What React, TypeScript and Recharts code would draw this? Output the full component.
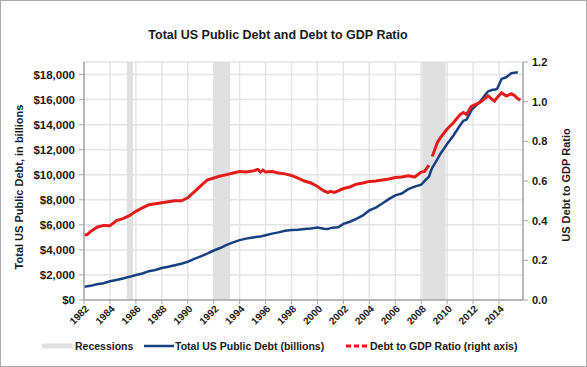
import React from 'react';
import { ComposedChart, Line, XAxis, YAxis, CartesianGrid, ReferenceArea } from 'recharts';

// quarter-ish sample points
const years = [
  1982.0, 1982.25, 1982.5, 1983.0, 1983.5, 1984.0, 1984.5, 1985.0, 1985.5, 1986.0,
  1986.5, 1987.0, 1987.5, 1988.0, 1988.5, 1989.0, 1989.5, 1990.0, 1990.5, 1991.0,
  1991.5, 1992.0, 1992.5, 1993.0, 1993.5, 1994.0, 1994.5, 1995.0, 1995.4, 1995.6,
  1995.8, 1996.0, 1996.5, 1997.0, 1997.5, 1998.0, 1998.5, 1999.0, 1999.5, 2000.0,
  2000.5, 2000.8, 2001.0, 2001.3, 2001.6, 2002.0, 2002.5, 2003.0, 2003.5, 2004.0,
  2004.5, 2005.0, 2005.5, 2006.0, 2006.5, 2007.0, 2007.5, 2008.0, 2008.25, 2008.6,
  2008.75, 2008.85, 2009.0, 2009.25, 2009.5, 2010.0, 2010.5, 2011.0, 2011.25, 2011.5,
  2011.85, 2012.0, 2012.5, 2013.0, 2013.15, 2013.5, 2013.65, 2013.85, 2014.2, 2014.55,
  2014.95, 2015.2, 2015.45, 2015.65,
];

const debtBillions = [
  1060, 1090, 1130, 1250, 1340, 1490, 1600, 1720, 1850, 2000,
  2120, 2300, 2400, 2550, 2660, 2780, 2900, 3050, 3280, 3480,
  3700, 3950, 4150, 4400, 4600, 4780, 4900, 4990, 5050, 5070,
  5120, 5170, 5300, 5400, 5520, 5580, 5600, 5660, 5700, 5780,
  5680, 5660, 5740, 5780, 5800, 6080, 6250, 6480, 6750, 7150,
  7380, 7700, 8050, 8350, 8500, 8850, 9050, 9200, 9500, 9850,
  10300, 10550, 10800, 11250, 11700, 12450, 13150, 13950, 14300, 14400,
  15100, 15300, 15790, 16460, 16650, 16780, 16780, 16850, 17650, 17780,
  18100, 18150, 18180, null,
];

const debtToGdp = [
  0.328, 0.33, 0.345, 0.367, 0.376, 0.374, 0.4, 0.41, 0.425, 0.447,
  0.465, 0.48, 0.485, 0.49, 0.495, 0.5, 0.5, 0.515, 0.545, 0.575,
  0.605, 0.615, 0.625, 0.632, 0.64, 0.648, 0.645, 0.65, 0.658, 0.645,
  0.655, 0.645, 0.648, 0.64, 0.636, 0.628, 0.615, 0.6, 0.59, 0.572,
  0.55, 0.542, 0.548, 0.542, 0.55, 0.562, 0.57, 0.584, 0.59, 0.598,
  0.6, 0.605, 0.61, 0.618, 0.62, 0.626, 0.62, 0.645, 0.648, 0.68,
  null, 0.724, 0.75, 0.795, 0.82, 0.862, 0.895, 0.935, 0.945, 0.935,
  0.975, 0.98, 0.995, 1.02, 1.03, 1.01, 1.003, 1.02, 1.045, 1.028,
  1.04, 1.03, 1.015, 1.008,
];

const recessionStart = [1985.3, 1991.98, 2008.08];
const recessionEnd = [1985.78, 1993.27, 2009.88];

const yearTicks = [1982, 1984, 1986, 1988, 1990, 1992, 1994, 1996, 1998, 2000, 2002, 2004, 2006, 2008, 2010, 2012, 2014];
const debtTicks = [0, 2000, 4000, 6000, 8000, 10000, 12000, 14000, 16000, 18000];
const ratioTicks = [0, 0.2, 0.4, 0.6, 0.8, 1.0, 1.2];

const data = years.map((year, i) => ({ year, debt: debtBillions[i], ratio: debtToGdp[i] }));

const FONT = '"Liberation Sans", Arial, sans-serif';
const BLUE = '#183f80';
const RED = '#e31b1b';
const GRID = '#e4e4e4';
const AXIS = '#a8a8a8';
const BAND = '#e0e0e0';
const TEXT = '#1a1a1a';

const YearTick = (props: any) => {
  const { x, y, payload } = props;
  return (
    <g transform={`translate(${x + 3},${y + 1}) rotate(-45)`}>
      <text textAnchor="end" dy="0.35em" fontSize={10} fontWeight="bold" fill={TEXT} fontFamily={FONT}>
        {payload.value}
      </text>
    </g>
  );
};

const LeftTitle = (props: any) => {
  const { viewBox } = props;
  const cx = viewBox.x + 18;
  const cy = viewBox.y + viewBox.height / 2 + 6;
  return (
    <text x={cx} y={cy} transform={`rotate(-90, ${cx}, ${cy})`} textAnchor="middle" dy="0.35em"
      fontSize={11} fontWeight="bold" fill={TEXT} fontFamily={FONT}>
      Total US Public Debt, in billions
    </text>
  );
};

const RightTitle = (props: any) => {
  const { viewBox } = props;
  const cx = viewBox.x + 43;
  const cy = viewBox.y + viewBox.height / 2 + 4;
  return (
    <text x={cx} y={cy} transform={`rotate(-90, ${cx}, ${cy})`} textAnchor="middle" dy="0.35em"
      fontSize={11} fontWeight="bold" fill={TEXT} fontFamily={FONT}>
      US Debt to GDP Ratio
    </text>
  );
};

const money = (v: number) => '$' + v.toLocaleString('en-US');

export default function App() {
  return (
    <div style={{ position: 'relative', width: 587, height: 367, border: '1px solid #ababab', boxSizing: 'border-box', background: '#fff', fontFamily: FONT }}>
      <style>{'body{margin:0}'}</style>
      <ComposedChart width={585} height={365} data={data} margin={{ top: 61, right: 0, bottom: 26, left: 0 }}>
        <CartesianGrid yAxisId="left" stroke={GRID} strokeWidth={1.5} />
        {recessionStart.map((s, i) => (
          <ReferenceArea key={`rec-${i}`} yAxisId="left" x1={s} x2={recessionEnd[i]} fill={BAND} fillOpacity={1} stroke="none" />
        ))}
        <XAxis dataKey="year" type="number" domain={[1982, 2015.85]} ticks={yearTicks} height={40}
          tick={<YearTick />} tickSize={4} tickMargin={2} interval={0}
          axisLine={{ stroke: AXIS, strokeWidth: 1.5 }} tickLine={{ stroke: AXIS }} />
        <YAxis yAxisId="left" domain={[0, 19000]} ticks={debtTicks} width={83} tickFormatter={money}
          tickSize={5} tickMargin={4} interval={0}
          tick={{ fontSize: 11.5, fontWeight: 'bold', fill: TEXT, fontFamily: FONT }}
          axisLine={{ stroke: AXIS, strokeWidth: 1.5 }} tickLine={{ stroke: AXIS }}
          label={<LeftTitle />} />
        <YAxis yAxisId="right" orientation="right" domain={[0, 1.2]} ticks={ratioTicks} width={63}
          tickFormatter={(v: number) => v.toFixed(1)} tickSize={5} tickMargin={4} interval={0}
          tick={{ fontSize: 11, fontWeight: 'bold', fill: TEXT, fontFamily: FONT }}
          axisLine={{ stroke: AXIS, strokeWidth: 1.5 }} tickLine={{ stroke: AXIS }}
          label={<RightTitle />} />
        <Line yAxisId="left" type="linear" dataKey="debt" stroke={BLUE} strokeWidth={2.5} dot={false}
          activeDot={false} isAnimationActive={false} />
        <Line yAxisId="right" type="linear" dataKey="ratio" stroke={RED} strokeWidth={3} dot={false}
          activeDot={false} isAnimationActive={false} />
      </ComposedChart>
      <svg width={585} height={365} style={{ position: 'absolute', left: 0, top: 0, pointerEvents: 'none' }}>
        <text x={277} y={37.5} textAnchor="middle" fontSize={12.5} fontWeight="bold" fill={TEXT} fontFamily={FONT}>
          Total US Public Debt and Debt to GDP Ratio
        </text>
        <g fontSize={10.5} fontWeight="bold" fill={TEXT} fontFamily={FONT}>
          <rect x={41} y={342.5} width={30} height={5} fill={BAND} />
          <text x={74} y={348.7}>Recessions</text>
          <line x1={143} y1={345} x2={173} y2={345} stroke={BLUE} strokeWidth={2.5} />
          <text x={174} y={348.7}>Total US Public Debt (billions)</text>
          <line x1={345} y1={345} x2={366} y2={345} stroke={RED} strokeWidth={3} strokeDasharray="5 3" />
          <text x={369} y={348.7}>Debt to GDP Ratio (right axis)</text>
        </g>
      </svg>
    </div>
  );
}
